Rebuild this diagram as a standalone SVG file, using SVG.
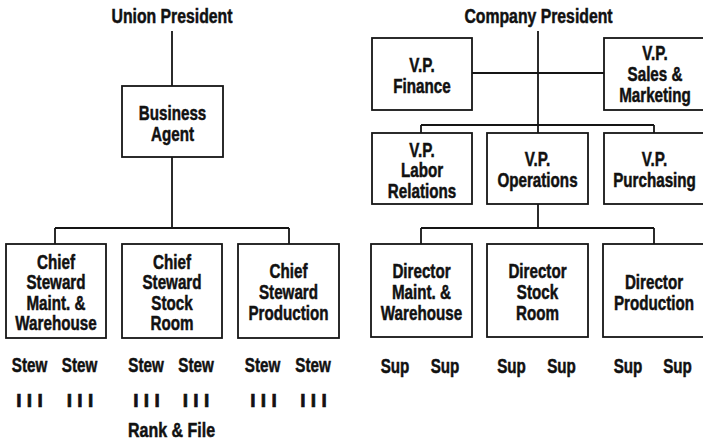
<svg xmlns="http://www.w3.org/2000/svg" width="703" height="444" viewBox="0 0 703 444">
<style>
.bg{fill:#fff}
.box{fill:#fff;stroke:#151515;stroke-width:1.8}
.ln{fill:none;stroke:#151515;stroke-width:1.8}
.t{font-family:"Liberation Sans",Arial,Helvetica,sans-serif;font-weight:bold;font-size:20px;text-anchor:middle;fill:#111;stroke:#111;stroke-width:0.5}
.h{font-size:20.5px}
.bar{font-family:"Liberation Sans",Arial,Helvetica,sans-serif;font-weight:bold;font-size:19px;text-anchor:middle;fill:#111;stroke:#111;stroke-width:0.7}
</style>
<rect class="bg" x="0" y="0" width="703" height="444"/>

<g id="connectors">
  <path class="ln" d="M172 31V86M172 157V228M55 228H289M55 228V244M289 228V244"/>
  <path class="ln" d="M538 31V133M472 73H604M421 125H654M421 125V133M654 125V133M538 204V228M421 228H654M421 228V244M654 228V244"/>
</g>

<g id="union-president">
  <text class="t h" transform="translate(172,23) scale(0.77,1)">Union President</text>
</g>
<g id="company-president">
  <text class="t h" transform="translate(538.5,23) scale(0.77,1)">Company President</text>
</g>

<g id="business-agent">
  <rect class="box" x="122" y="86" width="101" height="71"/>
  <g transform="translate(172.5,0) scale(0.76,1)">
    <text class="t" y="120">Business</text>
    <text class="t" y="141">Agent</text>
  </g>
</g>

<g id="chief-steward-maint">
  <rect class="box" x="6" y="244" width="100" height="94"/>
  <g transform="translate(56,0) scale(0.76,1)">
    <text class="t" y="269">Chief</text>
    <text class="t" y="289.5">Steward</text>
    <text class="t" y="310">Maint. &amp;</text>
    <text class="t" y="330.5">Warehouse</text>
  </g>
</g>
<g id="chief-steward-stock">
  <rect class="box" x="122" y="244" width="100" height="94"/>
  <g transform="translate(172,0) scale(0.76,1)">
    <text class="t" y="269">Chief</text>
    <text class="t" y="289.5">Steward</text>
    <text class="t" y="310">Stock</text>
    <text class="t" y="330.5">Room</text>
  </g>
</g>
<g id="chief-steward-production">
  <rect class="box" x="238" y="244" width="101" height="94"/>
  <g transform="translate(288.5,0) scale(0.76,1)">
    <text class="t" y="278">Chief</text>
    <text class="t" y="299">Steward</text>
    <text class="t" y="320">Production</text>
  </g>
</g>

<g id="stewards">
  <text class="t" transform="translate(29.5,372) scale(0.76,1)">Stew</text>
  <text class="t" transform="translate(79.5,372) scale(0.76,1)">Stew</text>
  <text class="t" transform="translate(146,372) scale(0.76,1)">Stew</text>
  <text class="t" transform="translate(196,372) scale(0.76,1)">Stew</text>
  <text class="t" transform="translate(262.5,372) scale(0.76,1)">Stew</text>
  <text class="t" transform="translate(313,372) scale(0.76,1)">Stew</text>
</g>
<g id="rank-and-file-marks">
  <text class="bar" x="29.5" y="407">I I I</text>
  <text class="bar" x="80" y="407">I I I</text>
  <text class="bar" x="146.5" y="407">I I I</text>
  <text class="bar" x="196" y="407">I I I</text>
  <text class="bar" x="263.5" y="407">I I I</text>
  <text class="bar" x="313.5" y="407">I I I</text>
</g>
<g id="rank-and-file">
  <text class="t h" transform="translate(171.5,437) scale(0.78,1)">Rank &amp; File</text>
</g>

<g id="vp-finance">
  <rect class="box" x="372" y="38" width="100" height="72"/>
  <g transform="translate(422,0) scale(0.76,1)">
    <text class="t" y="72">V.P.</text>
    <text class="t" y="93">Finance</text>
  </g>
</g>
<g id="vp-sales">
  <rect class="box" x="604" y="38" width="101" height="72"/>
  <g transform="translate(655,0) scale(0.76,1)">
    <text class="t" y="60.5">V.P.</text>
    <text class="t" y="81">Sales &amp;</text>
    <text class="t" y="102">Marketing</text>
  </g>
</g>
<g id="vp-labor">
  <rect class="box" x="372" y="133" width="100" height="71"/>
  <g transform="translate(422,0) scale(0.76,1)">
    <text class="t" y="157">V.P.</text>
    <text class="t" y="177.5">Labor</text>
    <text class="t" y="198">Relations</text>
  </g>
</g>
<g id="vp-operations">
  <rect class="box" x="487" y="133" width="101" height="71"/>
  <g transform="translate(537.5,0) scale(0.76,1)">
    <text class="t" y="166">V.P.</text>
    <text class="t" y="187">Operations</text>
  </g>
</g>
<g id="vp-purchasing">
  <rect class="box" x="604" y="133" width="101" height="71"/>
  <g transform="translate(654.5,0) scale(0.76,1)">
    <text class="t" y="166">V.P.</text>
    <text class="t" y="187">Purchasing</text>
  </g>
</g>

<g id="director-maint">
  <rect class="box" x="371" y="244" width="101" height="93"/>
  <g transform="translate(421.5,0) scale(0.76,1)">
    <text class="t" y="278">Director</text>
    <text class="t" y="299">Maint. &amp;</text>
    <text class="t" y="320">Warehouse</text>
  </g>
</g>
<g id="director-stock">
  <rect class="box" x="487" y="244" width="101" height="93"/>
  <g transform="translate(537.5,0) scale(0.76,1)">
    <text class="t" y="278">Director</text>
    <text class="t" y="299">Stock</text>
    <text class="t" y="320">Room</text>
  </g>
</g>
<g id="director-production">
  <rect class="box" x="603" y="244" width="102" height="93"/>
  <g transform="translate(654,0) scale(0.76,1)">
    <text class="t" y="289">Director</text>
    <text class="t" y="310">Production</text>
  </g>
</g>

<g id="supervisors">
  <text class="t" transform="translate(395,373) scale(0.76,1)">Sup</text>
  <text class="t" transform="translate(445,373) scale(0.76,1)">Sup</text>
  <text class="t" transform="translate(511.5,373) scale(0.76,1)">Sup</text>
  <text class="t" transform="translate(561.5,373) scale(0.76,1)">Sup</text>
  <text class="t" transform="translate(628,373) scale(0.76,1)">Sup</text>
  <text class="t" transform="translate(677.5,373) scale(0.76,1)">Sup</text>
</g>
</svg>
